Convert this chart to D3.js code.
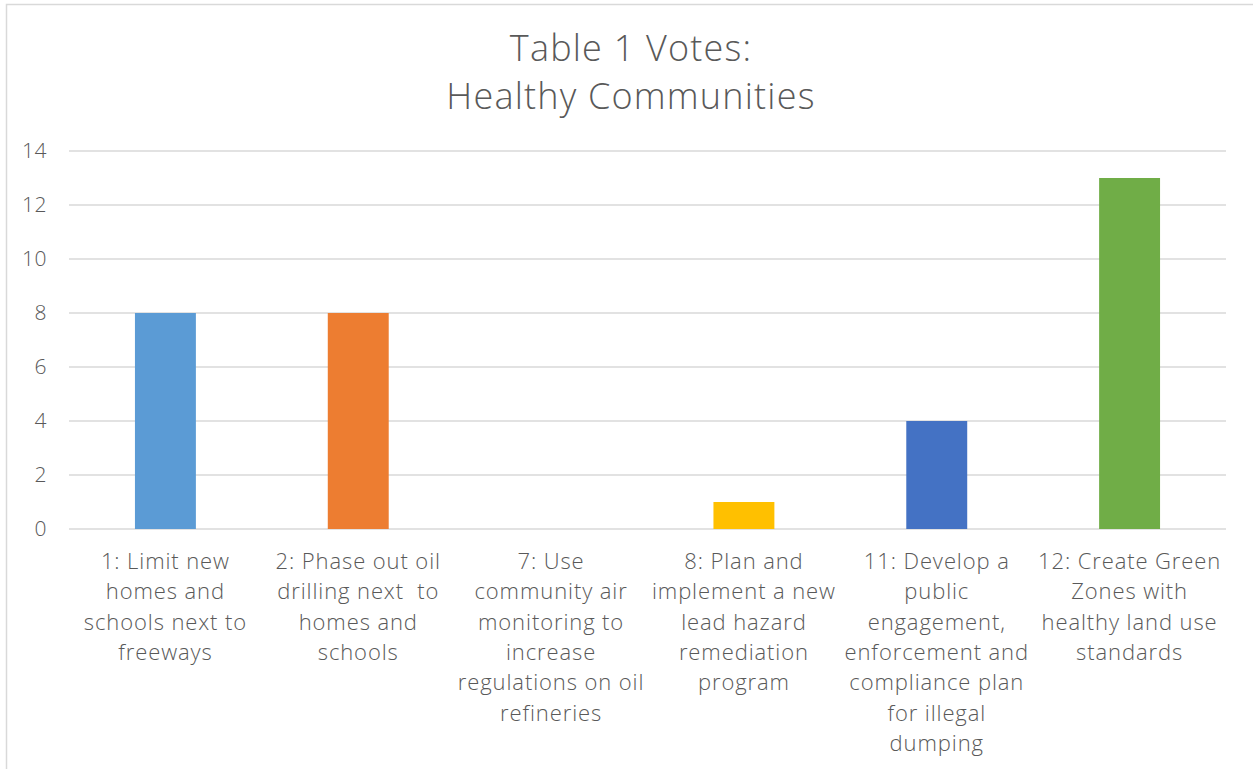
<!DOCTYPE html>
<html>
<head>
<meta charset="utf-8">
<script src="https://cdn.jsdelivr.net/npm/d3@7"></script>
<style>
  body { margin: 0; background: #fff; }
  text { font-family: "Open Sans", sans-serif; font-weight: 300; fill: #595959; }
</style>
</head>
<body>
<svg></svg>
<script>
var width = 1253, height = 769;

// data
var categories = ['1', '2', '7', '8', '11', '12'];
var labels = [
	['1: Limit new', 'homes and', 'schools next to', 'freeways'],
	['2: Phase out oil', 'drilling next  to', 'homes and', 'schools'],
	['7: Use', 'community air', 'monitoring to', 'increase', 'regulations on oil', 'refineries'],
	['8: Plan and', 'implement a new', 'lead hazard', 'remediation', 'program'],
	['11: Develop a', 'public', 'engagement,', 'enforcement and', 'compliance plan', 'for illegal', 'dumping'],
	['12: Create Green', 'Zones with', 'healthy land use', 'standards']
];
var votes = [8, 8, 0, 1, 4, 13];
var colors = ['#5b9bd5', '#ed7d31', '#a5a5a5', '#ffc000', '#4472c4', '#70ad47'];
var yTicks = [0, 2, 4, 6, 8, 10, 12, 14];
var titleLines = ['Table 1 Votes:', 'Healthy Communities'];

var svg = d3.select('svg')
		.attr('width', width)
		.attr('height', height);

// chart border
svg.append('rect')
	.attr('x', 6.5).attr('y', 4.5)
	.attr('width', width + 20).attr('height', height + 20)
	.attr('fill', 'none')
	.attr('stroke', '#d9d9d9')
	.attr('stroke-width', 1.5);

var plot = {left: 69, right: 1226, top: 151, bottom: 529};

var x = d3.scaleBand()
	.domain(categories)
	.range([plot.left, plot.right])
	.padding(0);
var y = d3.scaleLinear()
	.domain([0, 14])
	.range([plot.bottom, plot.top]);
var barW = x.bandwidth() * 0.316;

// gridlines
svg.append('g')
	.selectAll('line')
	.data(yTicks)
	.enter()
	.append('line')
		.attr('x1', plot.left)
		.attr('x2', plot.right)
		.attr('y1', function(d){return y(d)})
		.attr('y2', function(d){return y(d)})
		.attr('stroke', '#d9d9d9')
		.attr('stroke-width', 1.5);

// y axis labels
var yAxis = svg.append('g')
	.attr('transform', 'translate(' + (plot.left - 22) + ',0)')
	.call(d3.axisLeft(y).tickValues(yTicks).tickSize(0).tickPadding(0));
yAxis.select('.domain').remove();
yAxis.selectAll('text')
	.style('font-family', '"Open Sans", sans-serif')
	.style('font-weight', 300)
	.style('font-size', '21px')
	.style('letter-spacing', '0.5px')
	.attr('fill', '#595959');

// bars
svg.append('g')
	.selectAll('rect')
	.data(votes)
	.enter()
	.append('rect')
		.attr('x', function(d, i){return x(categories[i]) + (x.bandwidth() - barW) / 2})
		.attr('y', function(d){return y(d)})
		.attr('width', barW)
		.attr('height', function(d){return y(0) - y(d)})
		.attr('fill', function(d, i){return colors[i]});

// category labels
svg.append('g')
	.selectAll('text')
	.data(labels)
	.enter()
	.append('text')
		.attr('text-anchor', 'middle')
		.attr('font-size', '22px')
		.style('letter-spacing', '0.9px')
		.attr('x', function(d, i){return x(categories[i]) + x.bandwidth() / 2})
		.attr('y', plot.bottom + 40)
		.each(function(d){
			var t = d3.select(this);
			d.forEach(function(line, k){
				t.append('tspan')
					.attr('x', t.attr('x'))
					.attr('dy', k == 0 ? 0 : 30.3)
					.style('white-space', 'pre')
					.text(line);
			});
		});

// title
svg.append('text')
	.attr('text-anchor', 'middle')
	.attr('font-size', '36px')
	.style('letter-spacing', '1.2px')
	.attr('x', 631)
	.attr('y', 61)
	.selectAll('tspan')
	.data(titleLines)
	.enter()
	.append('tspan')
		.attr('x', 631)
		.attr('dy', function(d, i){return i == 0 ? 0 : 48})
		.text(function(d){return d});
</script>
</body>
</html>
